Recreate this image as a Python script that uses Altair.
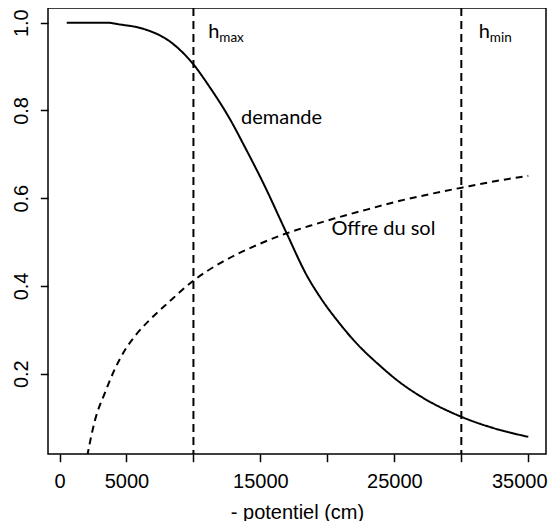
import altair as alt
import pandas as pd

# demande (solid curve)
dem_x = [540, 3520, 4500, 6260, 8250, 10000, 11240, 12730, 13850, 15220, 16960,
         18460, 19600, 20820, 21940, 23930, 25420, 26920, 29980, 32390, 35000]
dem_y = [1.0, 1.0, 0.996, 0.986, 0.957, 0.905, 0.852, 0.780, 0.716, 0.634, 0.520,
         0.424, 0.368, 0.318, 0.277, 0.218, 0.180, 0.149, 0.102, 0.076, 0.056]

# offre du sol (dashed curve)
off_x = [1900, 2650, 3400, 4140, 4890, 5640, 6880, 8120, 10000, 12230, 14720,
         16960, 18700, 20440, 22940, 25420, 27910, 30030, 32390, 35000]
off_y = [-0.015, 0.094, 0.157, 0.211, 0.254, 0.286, 0.327, 0.362, 0.412, 0.456, 0.493,
         0.520, 0.537, 0.553, 0.574, 0.594, 0.611, 0.624, 0.638, 0.651]

# thresholds
h_x = [10000, 30000]

# annotations
lab_text = ["demande", "Offre du sol", "h", "h"]
lab_x = [13550, 20300, 11110, 31300]
lab_y = [0.769, 0.516, 0.965, 0.965]
sub_text = ["max", "min"]
sub_x = [11930, 32130]
sub_y = [0.955, 0.955]

x_ticks = [0, 5000, 10000, 15000, 20000, 25000, 30000, 35000]
y_ticks = [0.2, 0.4, 0.6, 0.8, 1.0]

curves = pd.DataFrame(
    {"x": dem_x + off_x,
     "y": dem_y + off_y,
     "serie": ["demande"] * len(dem_x) + ["offre"] * len(off_x)}
)
hdf = pd.DataFrame({"x": h_x})
labs = pd.DataFrame({"t": lab_text, "x": lab_x, "y": lab_y})
subs = pd.DataFrame({"t": sub_text, "x": sub_x, "y": sub_y})

xscale = alt.Scale(domain=[-858.6, 36322], nice=False, zero=False)
yscale = alt.Scale(domain=[0.0169, 1.0335], nice=False, zero=False)

xaxis = alt.Axis(
    values=x_ticks, format="d", title="- potentiel (cm)",
    labelExpr="(datum.value == 10000 || datum.value == 20000 || datum.value == 30000) ? '' : datum.label",
    labelOffset={"condition": {"test": "datum.value == 35000", "value": -9}, "value": 0},
    labelPadding=9.5, titleY=64, titleBaseline="alphabetic",
)
yaxis = alt.Axis(
    values=y_ticks, format=".1f", title="", labelAngle=-90,
    labelAlign="center", labelBaseline="alphabetic", labelPadding=13,
)

X = alt.X("x:Q", scale=xscale, axis=xaxis)
Y = alt.Y("y:Q", scale=yscale, axis=yaxis)

lines = alt.Chart(curves).mark_line(
    clip=True, color="black", strokeWidth=2, interpolate="monotone"
).encode(
    x=X, y=Y,
    strokeDash=alt.StrokeDash(
        "serie:N",
        scale=alt.Scale(domain=["demande", "offre"], range=[[1, 0], [7, 5]]),
        legend=None,
    ),
    detail="serie:N",
)

rules = alt.Chart(hdf).mark_rule(
    color="black", strokeWidth=2, strokeDash=[8, 5]
).encode(x=alt.X("x:Q", scale=xscale))

texts = alt.Chart(labs).mark_text(
    font="Lato", fontSize=20, align="left", baseline="alphabetic", color="black"
).encode(x=alt.X("x:Q", scale=xscale), y=alt.Y("y:Q", scale=yscale), text="t:N")

subtexts = alt.Chart(subs).mark_text(
    font="Lato", fontSize=13.5, align="left", baseline="alphabetic", color="black"
).encode(x=alt.X("x:Q", scale=xscale), y=alt.Y("y:Q", scale=yscale), text="t:N")

chart = alt.layer(lines, rules, texts, subtexts).properties(
    width=498, height=446,
    autosize=alt.AutoSizeParams(type="none"),
    padding={"left": 40, "top": 0, "right": 2, "bottom": 67},
).configure_view(
    stroke="black", strokeWidth=1.5
).configure_axis(
    grid=False, domain=False, tickColor="black", tickWidth=1.5, tickSize=7.7,
    labelFont="Liberation Sans", labelFontSize=20, labelColor="black",
    titleFont="Liberation Sans", titleFontSize=20, titleFontWeight="normal",
    titleColor="black",
)

chart.save("out.html", embed_options={"renderer": "svg", "actions": False})
